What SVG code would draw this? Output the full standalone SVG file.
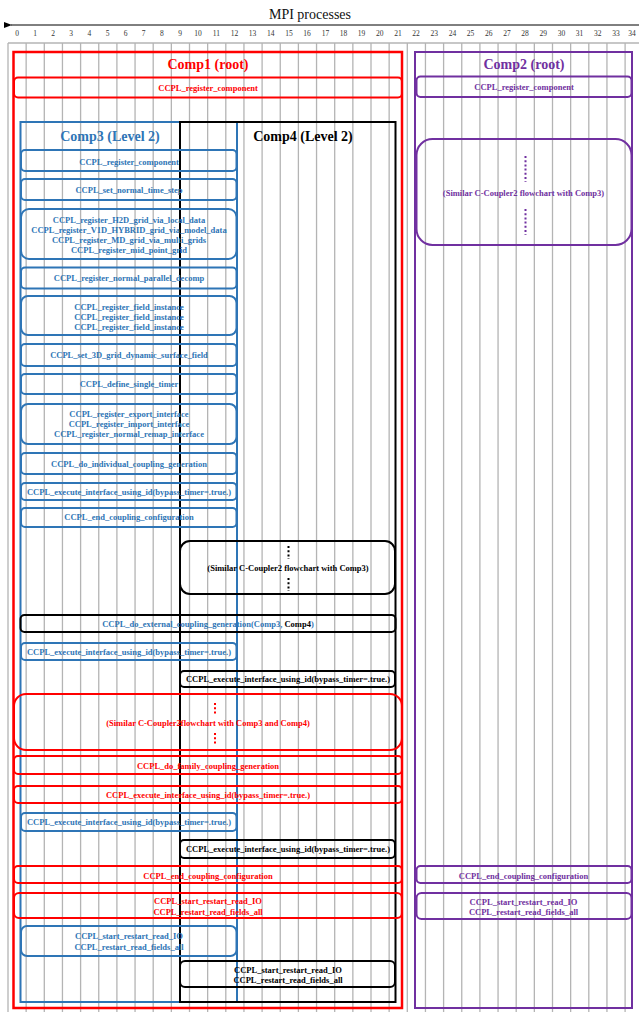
<svg xmlns="http://www.w3.org/2000/svg" width="639" height="1012" viewBox="0 0 639 1012">
<style>
  .grid { stroke: #b4b4b4; stroke-width: 1.3; fill: none; }
  .num { font-family: "Liberation Serif", serif; font-size: 7.5px; fill: #333; text-anchor: middle; }
  .title { font-family: "Liberation Serif", serif; font-size: 14px; font-weight: bold; text-anchor: middle; }
  .t { font-family: "Liberation Serif", serif; font-size: 8.5px; font-weight: bold; text-anchor: middle; }
  .red { stroke: #FF0000; fill: none; stroke-width: 2; }
  .redO { stroke: #FF0000; fill: none; stroke-width: 2.5; }
  .blue { stroke: #2E75B6; fill: none; stroke-width: 2; }
  .blk { stroke: #000; fill: none; stroke-width: 2; }
  .pur { stroke: #7030A0; fill: none; stroke-width: 2; }
  .fr { fill: #FF0000; } .fb { fill: #2E75B6; } .fk { fill: #000; } .fp { fill: #7030A0; }
  .dotr { stroke: #FF0000; stroke-width: 2; stroke-dasharray: 2 2.2; }
  .dotk { stroke: #000; stroke-width: 2; stroke-dasharray: 2 2.2; }
  .dotp { stroke: #7030A0; stroke-width: 2; stroke-dasharray: 2 2.2; }
</style>
<defs>
  <marker id="arr" markerWidth="8" markerHeight="6" refX="1" refY="3" orient="auto-start-reverse" markerUnits="userSpaceOnUse">
    <path d="M8,0 L0,3 L8,6 Z" fill="#000"/>
  </marker>
</defs>
<rect width="639" height="1012" fill="#fff"/>

<!-- axis -->
<g id="axis">
  <text x="310" y="19" font-family="Liberation Serif, serif" font-size="14" text-anchor="middle" fill="#111">MPI processes</text>
  <g class="num">
    <text x="17" y="35.5">0</text><text x="35" y="35.5">1</text><text x="53" y="35.5">2</text><text x="71" y="35.5">3</text><text x="89.3" y="35.5">4</text><text x="107.5" y="35.5">5</text><text x="125.6" y="35.5">6</text><text x="143.7" y="35.5">7</text><text x="161.9" y="35.5">8</text><text x="180" y="35.5">9</text>
    <text x="198" y="35.5">10</text><text x="216.3" y="35.5">11</text><text x="234.5" y="35.5">12</text><text x="252.6" y="35.5">13</text><text x="270.8" y="35.5">14</text><text x="289" y="35.5">15</text><text x="307" y="35.5">16</text><text x="325.5" y="35.5">17</text><text x="343.5" y="35.5">18</text><text x="361.6" y="35.5">19</text>
    <text x="379.8" y="35.5">20</text><text x="398" y="35.5">21</text><text x="416" y="35.5">22</text><text x="434.3" y="35.5">23</text><text x="452.4" y="35.5">24</text><text x="470.6" y="35.5">25</text><text x="488.8" y="35.5">26</text><text x="507" y="35.5">27</text><text x="525" y="35.5">28</text><text x="543.3" y="35.5">29</text>
    <text x="561.4" y="35.5">30</text><text x="579.6" y="35.5">31</text><text x="597.7" y="35.5">32</text><text x="616" y="35.5">33</text><text x="632" y="35.5">34</text>
  </g>
</g>

<!-- grid -->
<g id="grid" class="grid">
  <line x1="8" y1="43" x2="639" y2="43"/>
  <line x1="8" y1="43" x2="8" y2="1012"/><line x1="26.15" y1="43" x2="26.15" y2="1012"/><line x1="44.3" y1="43" x2="44.3" y2="1012"/><line x1="62.45" y1="43" x2="62.45" y2="1012"/><line x1="80.6" y1="43" x2="80.6" y2="1012"/><line x1="98.75" y1="43" x2="98.75" y2="1012"/><line x1="116.9" y1="43" x2="116.9" y2="1012"/><line x1="135.05" y1="43" x2="135.05" y2="1012"/><line x1="153.2" y1="43" x2="153.2" y2="1012"/><line x1="171.35" y1="43" x2="171.35" y2="1012"/>
  <line x1="189.5" y1="43" x2="189.5" y2="1012"/><line x1="207.65" y1="43" x2="207.65" y2="1012"/><line x1="225.8" y1="43" x2="225.8" y2="1012"/><line x1="243.95" y1="43" x2="243.95" y2="1012"/><line x1="262.1" y1="43" x2="262.1" y2="1012"/><line x1="280.25" y1="43" x2="280.25" y2="1012"/><line x1="298.4" y1="43" x2="298.4" y2="1012"/><line x1="316.55" y1="43" x2="316.55" y2="1012"/><line x1="334.7" y1="43" x2="334.7" y2="1012"/><line x1="352.85" y1="43" x2="352.85" y2="1012"/>
  <line x1="371" y1="43" x2="371" y2="1012"/><line x1="389.15" y1="43" x2="389.15" y2="1012"/><line x1="407.3" y1="43" x2="407.3" y2="1012"/><line x1="425.45" y1="43" x2="425.45" y2="1012"/><line x1="443.6" y1="43" x2="443.6" y2="1012"/><line x1="461.75" y1="43" x2="461.75" y2="1012"/><line x1="479.9" y1="43" x2="479.9" y2="1012"/><line x1="498.05" y1="43" x2="498.05" y2="1012"/><line x1="516.2" y1="43" x2="516.2" y2="1012"/><line x1="534.35" y1="43" x2="534.35" y2="1012"/>
  <line x1="552.5" y1="43" x2="552.5" y2="1012"/><line x1="570.65" y1="43" x2="570.65" y2="1012"/><line x1="588.8" y1="43" x2="588.8" y2="1012"/><line x1="606.95" y1="43" x2="606.95" y2="1012"/><line x1="625.1" y1="43" x2="625.1" y2="1012"/>
</g>

<!-- connectors -->
<g id="connectors">
  <line x1="639" y1="25" x2="11" y2="25" stroke="#000" stroke-width="1" marker-end="url(#arr)"/>
</g>

<!-- Comp1 -->
<g id="comp1">
  <rect class="redO" x="13.5" y="52" width="388.5" height="956"/>
  <text class="title fr" x="208" y="68.5">Comp1 (root)</text>
</g>
<g id="comp1_register_component">
  <rect class="red" x="14" y="77.5" width="388" height="20" rx="4"/>
  <text class="t fr" x="208" y="91">CCPL_register_component</text>
</g>

<!-- Comp2 -->
<g id="comp2">
  <rect class="pur" x="415" y="52" width="217" height="956" stroke-width="2.5"/>
  <text class="title fp" x="524" y="68.5">Comp2 (root)</text>
</g>
<g id="comp2_register_component">
  <rect class="pur" x="416.5" y="76.5" width="215" height="20.5" rx="4"/>
  <text class="t fp" x="524" y="90">CCPL_register_component</text>
</g>
<g id="comp2_similar">
  <rect class="pur" x="416.5" y="139" width="215" height="106" rx="16"/>
  <line class="dotp" x1="525.5" y1="156" x2="525.5" y2="182"/>
  <line class="dotp" x1="525.5" y1="209" x2="525.5" y2="235"/>
  <text class="t fp" x="523.5" y="195.5">(Similar C-Coupler2 flowchart with Comp3)</text>
</g>
<g id="comp2_end_coupling_configuration">
  <rect class="pur" x="416.5" y="866" width="215" height="17" rx="4"/>
  <text class="t fp" x="523.5" y="878.5">CCPL_end_coupling_configuration</text>
</g>
<g id="comp2_restart">
  <rect class="pur" x="416.5" y="893" width="215" height="26" rx="5"/>
  <text class="t fp" x="523.5" y="904.5">CCPL_start_restart_read_IO</text>
  <text class="t fp" x="523.5" y="914.5">CCPL_restart_read_fields_all</text>
</g>

<!-- Comp3 -->
<g id="comp3">
  <rect class="blue" x="20.5" y="122" width="216.5" height="880"/>
  <text class="title fb" x="110" y="140.5">Comp3 (Level 2)</text>
</g>
<!-- Comp4 -->
<g id="comp4">
  <rect class="blk" x="180" y="122" width="215.5" height="880"/>
  <text class="title fk" x="303" y="140.5">Comp4 (Level 2)</text>
</g>

<g id="c3_register_component">
  <rect class="blue" x="21" y="150" width="215.5" height="21" rx="4"/>
  <text class="t fb" x="129" y="164.5">CCPL_register_component</text>
</g>
<g id="c3_set_normal_time_step">
  <rect class="blue" x="21" y="179" width="215.5" height="21" rx="4"/>
  <text class="t fb" x="129" y="193">CCPL_set_normal_time_step</text>
</g>
<g id="c3_register_grids">
  <rect class="blue" x="21" y="209" width="215.5" height="50" rx="8"/>
  <text class="t fb" x="129" y="223">CCPL_register_H2D_grid_via_local_data</text>
  <text class="t fb" x="129" y="233">CCPL_register_V1D_HYBRID_grid_via_model_data</text>
  <text class="t fb" x="129" y="243">CCPL_register_MD_grid_via_multi_grids</text>
  <text class="t fb" x="129" y="253">CCPL_register_mid_point_grid</text>
</g>
<g id="c3_register_normal_parallel_decomp">
  <rect class="blue" x="21" y="267.5" width="215.5" height="21" rx="4"/>
  <text class="t fb" x="129" y="281">CCPL_register_normal_parallel_decomp</text>
</g>
<g id="c3_register_field_instance">
  <rect class="blue" x="21" y="296" width="215.5" height="39" rx="7"/>
  <text class="t fb" x="129" y="309.5">CCPL_register_field_instance</text>
  <text class="t fb" x="129" y="319.5">CCPL_register_field_instance</text>
  <text class="t fb" x="129" y="329.5">CCPL_register_field_instance</text>
</g>
<g id="c3_set_3D_grid_dynamic_surface_field">
  <rect class="blue" x="21" y="344" width="215.5" height="22" rx="4"/>
  <text class="t fb" x="129" y="358">CCPL_set_3D_grid_dynamic_surface_field</text>
</g>
<g id="c3_define_single_timer">
  <rect class="blue" x="21" y="374" width="215.5" height="20" rx="4"/>
  <text class="t fb" x="129" y="387">CCPL_define_single_timer</text>
</g>
<g id="c3_register_interfaces">
  <rect class="blue" x="21" y="404" width="215.5" height="40" rx="7"/>
  <text class="t fb" x="129" y="417">CCPL_register_export_interface</text>
  <text class="t fb" x="129" y="427">CCPL_register_import_interface</text>
  <text class="t fb" x="129" y="437">CCPL_register_normal_remap_interface</text>
</g>
<g id="c3_do_individual_coupling_generation">
  <rect class="blue" x="21" y="453" width="215.5" height="21" rx="4"/>
  <text class="t fb" x="129" y="467">CCPL_do_individual_coupling_generation</text>
</g>
<g id="c3_execute_interface_1">
  <rect class="blue" x="21" y="483" width="215.5" height="17" rx="4"/>
  <text class="t fb" x="129" y="495">CCPL_execute_interface_using_id(bypass_timer=.true.)</text>
</g>
<g id="c3_end_coupling_configuration">
  <rect class="blue" x="21" y="508" width="215.5" height="19" rx="4"/>
  <text class="t fb" x="129" y="520">CCPL_end_coupling_configuration</text>
</g>

<g id="c4_similar">
  <rect class="blk" x="180" y="541" width="215" height="53" rx="10"/>
  <line class="dotk" x1="288.5" y1="546" x2="288.5" y2="559"/>
  <line class="dotk" x1="288.5" y1="578" x2="288.5" y2="591"/>
  <text class="t fk" x="288" y="570.5">(Similar C-Coupler2 flowchart with Comp3)</text>
</g>
<g id="do_external_coupling_generation">
  <rect class="blk" x="20.5" y="615" width="375" height="17" rx="4"/>
  <text class="t" x="208" y="627"><tspan class="fb">CCPL_do_external_coupling_generation(Comp3,</tspan><tspan class="fk"> Comp4</tspan><tspan class="fb">)</tspan></text>
</g>
<g id="c3_execute_interface_2">
  <rect class="blue" x="21" y="643" width="215.5" height="17" rx="4"/>
  <text class="t fb" x="129" y="654.5">CCPL_execute_interface_using_id(bypass_timer=.true.)</text>
</g>
<g id="c4_execute_interface_1">
  <rect class="blk" x="180" y="671" width="215" height="16" rx="4"/>
  <text class="t fk" x="288" y="682">CCPL_execute_interface_using_id(bypass_timer=.true.)</text>
</g>
<g id="comp1_similar">
  <rect class="red" x="14" y="694" width="388" height="56" rx="12"/>
  <line class="dotr" x1="215" y1="703" x2="215" y2="715"/>
  <line class="dotr" x1="215" y1="733" x2="215" y2="745"/>
  <text class="t fr" x="208" y="726">(Similar C-Coupler2flowchart with Comp3 and Comp4)</text>
</g>
<g id="comp1_do_family_coupling_generation">
  <rect class="red" x="14" y="756" width="388" height="18" rx="4"/>
  <text class="t fr" x="208" y="769">CCPL_do_family_coupling_generation</text>
</g>
<g id="comp1_execute_interface">
  <rect class="red" x="14" y="786" width="388" height="17" rx="4"/>
  <text class="t fr" x="208" y="798">CCPL_execute_interface_using_id(bypass_timer=.true.)</text>
</g>
<g id="c3_execute_interface_3">
  <rect class="blue" x="21" y="813" width="215.5" height="18" rx="4"/>
  <text class="t fb" x="129" y="825">CCPL_execute_interface_using_id(bypass_timer=.true.)</text>
</g>
<g id="c4_execute_interface_2">
  <rect class="blk" x="180" y="840" width="215" height="18" rx="4"/>
  <text class="t fk" x="288" y="852">CCPL_execute_interface_using_id(bypass_timer=.true.)</text>
</g>
<g id="comp1_end_coupling_configuration">
  <rect class="red" x="14" y="866" width="388" height="17" rx="4"/>
  <text class="t fr" x="208" y="878.5">CCPL_end_coupling_configuration</text>
</g>
<g id="comp1_restart">
  <rect class="red" x="14" y="893" width="388" height="25" rx="5"/>
  <text class="t fr" x="208" y="904">CCPL_start_restart_read_IO</text>
  <text class="t fr" x="208" y="914.5">CCPL_restart_read_fields_all</text>
</g>
<g id="c3_restart">
  <rect class="blue" x="21" y="926" width="215.5" height="30" rx="6"/>
  <text class="t fb" x="129" y="939">CCPL_start_restart_read_IO</text>
  <text class="t fb" x="129" y="949.5">CCPL_restart_read_fields_all</text>
</g>
<g id="c4_restart">
  <rect class="blk" x="180" y="961" width="215" height="26" rx="5"/>
  <text class="t fk" x="288" y="973">CCPL_start_restart_read_IO</text>
  <text class="t fk" x="288" y="983">CCPL_restart_read_fields_all</text>
</g>
</svg>
